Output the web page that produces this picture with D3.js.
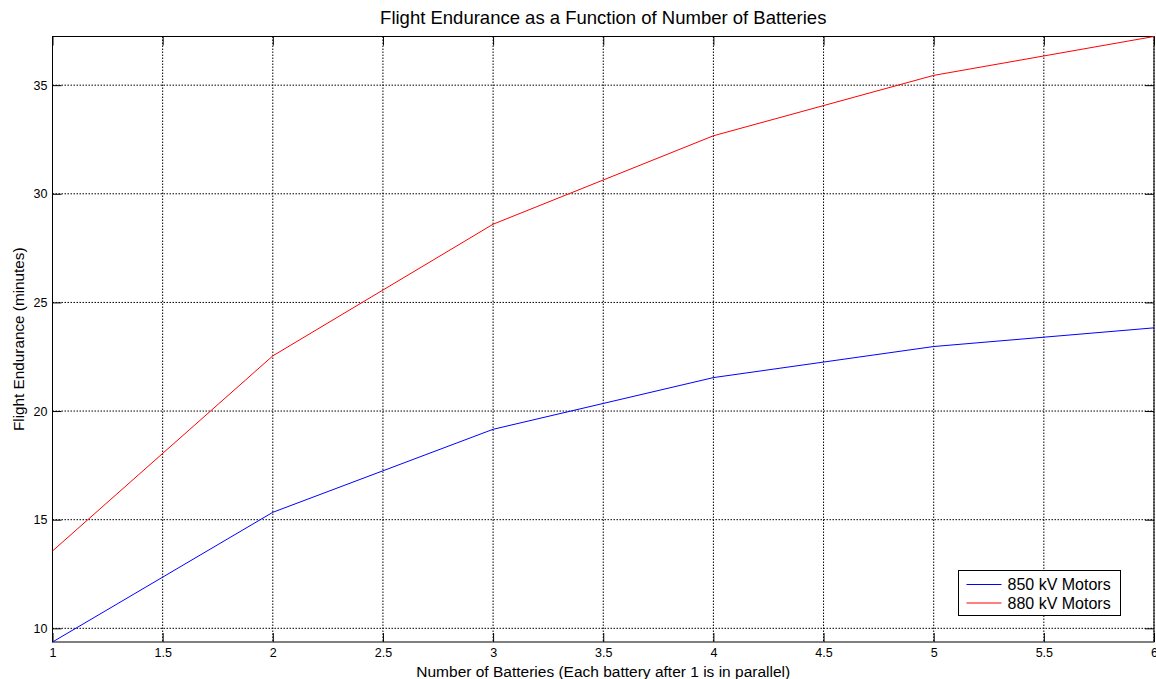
<!DOCTYPE html>
<html>
<head>
<meta charset="utf-8">
<script src="https://cdn.jsdelivr.net/npm/d3@7"></script>
<style>
  body { margin: 0; background: #fff; }
  text { font-family: "Liberation Sans", Arial, sans-serif; fill: #000; }
</style>
</head>
<body>
<div id="chart"></div>
<script>
// Data
const batteries = [1, 2, 3, 4, 5, 6];
const motors850 = [9.37, 15.34, 19.16, 21.54, 22.97, 23.83];
const motors880 = [13.56, 22.54, 28.6, 32.67, 35.45, 37.24];
const xTicks = [1, 1.5, 2, 2.5, 3, 3.5, 4, 4.5, 5, 5.5, 6];
const yTicks = [10, 15, 20, 25, 30, 35];
const seriesNames = ['850 kV Motors', '880 kV Motors'];

const W = 1156, H = 679;
const margin = { top: 36.5, right: 2, bottom: 37, left: 52.5 };
const width = W - margin.left - margin.right;
const height = H - margin.top - margin.bottom;

const svg = d3.select('#chart')
    .append('svg')
    .attr('width', W)
    .attr('height', H);

const g = svg.append('g')
    .attr('transform', `translate(${margin.left},${margin.top})`);

// Scales
const x = d3.scaleLinear().domain([1, 6]).range([0, width]);
const y = d3.scaleLinear().domain([9.37, 37.24]).range([height, 0]);

// Grid lines
g.selectAll('.vgrid').data(xTicks).enter().append('line')
    .attr('x1', d => x(d)).attr('x2', d => x(d))
    .attr('y1', 0).attr('y2', height)
    .attr('stroke', '#000').attr('stroke-width', 1)
    .attr('stroke-dasharray', '1.5,1.5');

g.selectAll('.hgrid').data(yTicks).enter().append('line')
    .attr('x1', 0).attr('x2', width)
    .attr('y1', d => y(d)).attr('y2', d => y(d))
    .attr('stroke', '#000').attr('stroke-width', 1)
    .attr('stroke-dasharray', '1.5,1.5');

// Axes (ticks pointing inward)
const tickLen = 9;
const xAxis = g.append('g')
    .attr('transform', `translate(0,${height})`)
    .call(d3.axisBottom(x).tickValues(xTicks).tickSize(-tickLen).tickPadding(6)
        .tickFormat(d3.format('')));
const xAxisTop = g.append('g')
    .call(d3.axisTop(x).tickValues(xTicks).tickSize(-tickLen).tickFormat(''));
const yAxis = g.append('g')
    .call(d3.axisLeft(y).tickValues(yTicks).tickSize(-tickLen).tickPadding(5));
const yAxisRight = g.append('g')
    .attr('transform', `translate(${width},0)`)
    .call(d3.axisRight(y).tickValues(yTicks).tickSize(-tickLen).tickFormat(''));

[xAxis, xAxisTop, yAxis, yAxisRight].forEach(a => {
    a.select('.domain').remove();
    a.selectAll('line').attr('stroke', '#000');
    a.selectAll('text').style('font-size', '12.5px').style('font-family', '"Liberation Sans", Arial, sans-serif');
});

// Frame
g.append('rect')
    .attr('width', width).attr('height', height)
    .attr('fill', 'none').attr('stroke', '#000').attr('stroke-width', 1);

// Lines
const line = d3.line()
    .x((d, i) => x(batteries[i]))
    .y(d => y(d));

g.append('path').datum(motors850)
    .attr('d', line).attr('fill', 'none')
    .attr('stroke', '#0000ff').attr('stroke-width', 1);

g.append('path').datum(motors880)
    .attr('d', line).attr('fill', 'none')
    .attr('stroke', '#ff0000').attr('stroke-width', 1);

// Title and labels
svg.append('text')
    .attr('x', margin.left + width / 2).attr('y', 24)
    .attr('text-anchor', 'middle')
    .style('font-size', '18.5px')
    .text('Flight Endurance as a Function of Number of Batteries');

svg.append('text')
    .attr('x', margin.left + width / 2).attr('y', 677)
    .attr('text-anchor', 'middle')
    .style('font-size', '15.5px')
    .text('Number of Batteries (Each battery after 1 is in parallel)');

svg.append('text')
    .attr('transform', `translate(24,${margin.top + height / 2}) rotate(-90)`)
    .attr('text-anchor', 'middle')
    .style('font-size', '15.3px')
    .text('Flight Endurance (minutes)');

// Legend
const legend = svg.append('g').attr('transform', 'translate(958.5,570.5)');
legend.append('rect')
    .attr('width', 162).attr('height', 45)
    .attr('fill', '#fff').attr('stroke', '#000').attr('stroke-width', 1);
const colors = ['#0000ff', '#ff0000'];
seriesNames.forEach((name, i) => {
    const ly = 14 + i * 18.5;
    legend.append('line')
        .attr('x1', 8).attr('x2', 43).attr('y1', ly).attr('y2', ly)
        .attr('stroke', colors[i]).attr('stroke-width', 1);
    legend.append('text')
        .attr('x', 49).attr('y', ly + 5.5)
        .style('font-size', '16px')
        .text(name);
});
</script>
</body>
</html>
